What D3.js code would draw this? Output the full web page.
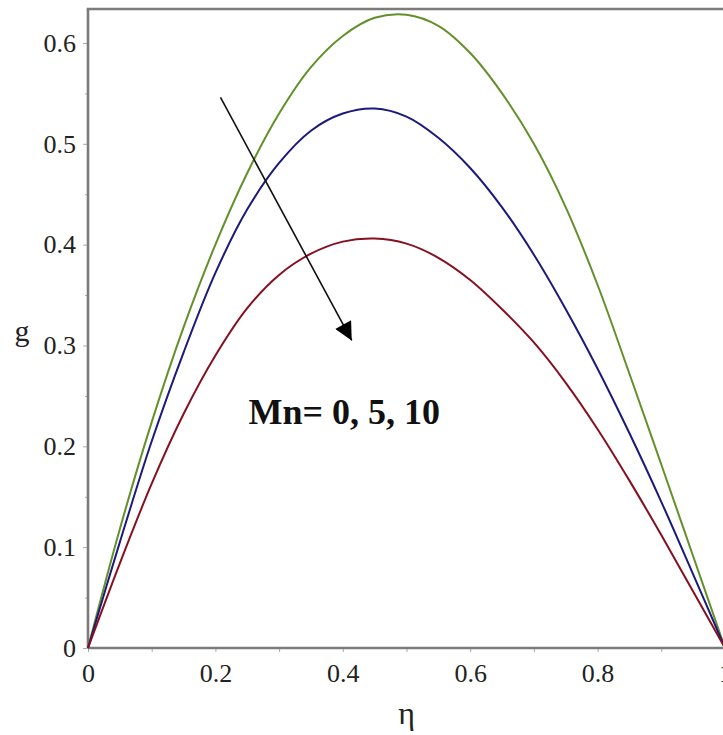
<!DOCTYPE html>
<html>
<head>
<meta charset="utf-8">
<script src="https://cdn.jsdelivr.net/npm/d3@7"></script>
<style>
  body { margin: 0; background: #fff; }
  svg { display: block; }
  text { font-family: 'Liberation Serif', 'Times New Roman', serif; }
</style>
</head>
<body>
<div id="chart"></div>
<script>
// eta grid and the three g(eta) profiles, Mn = 0, 5, 10
const eta = [0, 0.05, 0.1, 0.15, 0.2, 0.25, 0.3, 0.35, 0.4, 0.45, 0.5,
             0.55, 0.6, 0.65, 0.7, 0.75, 0.8, 0.85, 0.9, 0.95, 1];
const gMn0 = [0, 0.118, 0.224, 0.318, 0.400, 0.471, 0.530, 0.576, 0.607, 0.625, 0.628,
              0.617, 0.590, 0.550, 0.500, 0.437, 0.360, 0.272, 0.182, 0.091, 0];
const gMn5 = [0, 0.105, 0.205, 0.293, 0.372, 0.435, 0.481, 0.513, 0.530, 0.535, 0.527,
              0.506, 0.476, 0.437, 0.390, 0.336, 0.277, 0.213, 0.145, 0.073, 0];
const gMn10 = [0, 0.084, 0.163, 0.232, 0.290, 0.337, 0.370, 0.391, 0.403, 0.406, 0.401,
               0.387, 0.365, 0.336, 0.303, 0.263, 0.217, 0.166, 0.112, 0.056, 0];

const xTicks = [0, 0.2, 0.4, 0.6, 0.8, 1];
const xMinor = [0.1, 0.3, 0.5, 0.7, 0.9];
const yTicks = [0, 0.1, 0.2, 0.3, 0.4, 0.5, 0.6];
const yMinor = [0.05, 0.15, 0.25, 0.35, 0.45, 0.55];

const series = [
    { name: 'Mn=0', values: gMn0, color: '#62902a' },
    { name: 'Mn=5', values: gMn5, color: '#1a1a7c' },
    { name: 'Mn=10', values: gMn10, color: '#861020' }
];

const label = 'Mn= 0, 5, 10';
const arrowFrom = [0.208, 0.546];
const arrowTo = [0.414, 0.305];
const labelAt = [0.252, 0.222];

const width = 723, height = 735;
const margin = { top: 9, right: -2, bottom: 87, left: 88 };

const svg = d3.select('#chart').append('svg')
    .attr('width', width)
    .attr('height', height);

svg.append('rect').attr('width', width).attr('height', height).attr('fill', '#fff');

const x = d3.scaleLinear().domain([0, 1]).range([margin.left, width - margin.right]);
const y = d3.scaleLinear().domain([0, 0.6337]).range([height - margin.bottom, margin.top]);

const axisColor = '#7b7b7b';
const font = "'Liberation Serif', 'Times New Roman', serif";

// minor ticks
svg.append('g')
    .attr('transform', `translate(0,${y(0)})`)
    .call(d3.axisBottom(x).tickValues(xMinor).tickSize(4).tickFormat(''))
    .call(g => g.select('.domain').remove())
    .call(g => g.selectAll('line').attr('stroke', '#aaa'));
svg.append('g')
    .attr('transform', `translate(${x(0)},0)`)
    .call(d3.axisLeft(y).tickValues(yMinor).tickSize(3).tickFormat(''))
    .call(g => g.select('.domain').remove())
    .call(g => g.selectAll('line').attr('stroke', '#aaa'));

// major ticks + labels
svg.append('g')
    .attr('transform', `translate(0,${y(0)})`)
    .call(d3.axisBottom(x).tickValues(xTicks).tickSize(4).tickPadding(12)
        .tickFormat(d => d === 0 || d === 1 ? d3.format('d')(d) : d3.format('.1f')(d)))
    .call(g => g.attr('font-family', font).attr('font-size', 26))
    .call(g => g.select('.domain').remove())
    .call(g => g.selectAll('line').attr('stroke', '#aaa'))
    .call(g => g.selectAll('text').attr('fill', '#222'));

svg.append('g')
    .attr('transform', `translate(${x(0)},0)`)
    .call(d3.axisLeft(y).tickValues(yTicks).tickSize(5).tickPadding(7)
        .tickFormat(d => d === 0 ? '0' : d3.format('.1f')(d)))
    .call(g => g.attr('font-family', font).attr('font-size', 26))
    .call(g => g.select('.domain').remove())
    .call(g => g.selectAll('line').attr('stroke', '#aaa'))
    .call(g => g.selectAll('text').attr('fill', '#222'));

// frame
const frame = svg.append('g').attr('stroke', axisColor).attr('stroke-width', 2.6).attr('fill', 'none');
frame.append('line').attr('x1', x(0)).attr('x2', x(1)).attr('y1', y(0)).attr('y2', y(0));
frame.append('line').attr('x1', x(0)).attr('x2', x(0)).attr('y1', y(0)).attr('y2', margin.top);
frame.append('line').attr('x1', x(0) - 1.3).attr('x2', x(1)).attr('y1', margin.top).attr('y2', margin.top);

// curves
const line = d3.line()
    .x((d, i) => x(eta[i]))
    .y(d => y(d))
    .curve(d3.curveCatmullRom.alpha(0.5));

svg.append('g')
    .selectAll('path')
    .data(series)
    .join('path')
    .attr('d', d => line(d.values))
    .attr('fill', 'none')
    .attr('stroke', d => d.color)
    .attr('stroke-width', 2);

// arrow annotation
svg.append('defs').append('marker')
    .attr('id', 'head')
    .attr('viewBox', '0 0 10 10')
    .attr('refX', 10).attr('refY', 5)
    .attr('markerWidth', 22).attr('markerHeight', 18)
    .attr('markerUnits', 'userSpaceOnUse')
    .attr('orient', 'auto')
    .append('path')
    .attr('d', 'M0,0L10,5L0,10Z')
    .attr('fill', '#000');

svg.append('line')
    .attr('x1', x(arrowFrom[0])).attr('y1', y(arrowFrom[1]))
    .attr('x2', x(arrowTo[0])).attr('y2', y(arrowTo[1]))
    .attr('stroke', '#111')
    .attr('stroke-width', 1.6)
    .attr('marker-end', 'url(#head)');

svg.append('text')
    .attr('x', x(labelAt[0]))
    .attr('y', y(labelAt[1]))
    .attr('font-family', font)
    .attr('font-weight', 'bold')
    .attr('font-size', 36)
    .attr('fill', '#111')
    .text(label);

// axis titles
svg.append('text')
    .attr('x', (x(0) + x(1)) / 2)
    .attr('y', 724)
    .attr('text-anchor', 'middle')
    .attr('font-family', font)
    .attr('font-size', 32)
    .attr('fill', '#222')
    .text('η');

svg.append('text')
    .attr('x', 22)
    .attr('y', 341)
    .attr('text-anchor', 'middle')
    .attr('font-family', font)
    .attr('font-size', 30)
    .attr('fill', '#222')
    .text('g');
</script>
</body>
</html>
